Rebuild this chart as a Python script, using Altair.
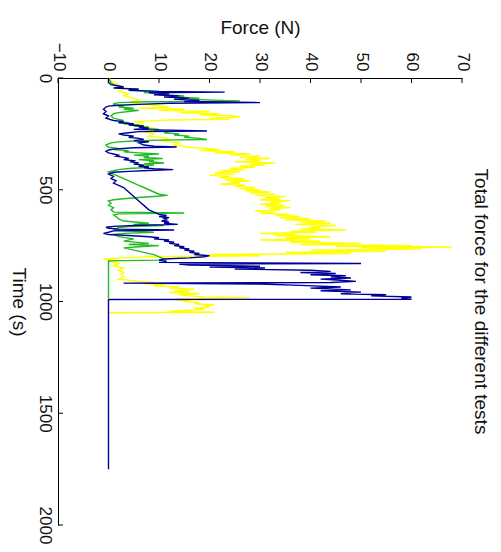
import altair as alt
import pandas as pd

# ---- data (time in s, force in N) ----
blue_t = [0,20,30,40,45,50,55,60,63,66,70,75,80,85,90,95,100,105,110,113,118,122,126,130,140,150,160,170,180,190,195,200,205,210,215,220,225,230,237,240,245,250,255,260,265,270,275,280,285,290,300,305,309,312,318,322,328,335,340,345,350,355,360,365,370,375,380,385,390,395,398,402,406,410,414,418,422,426,430,440,450,460,470,480,490,500,510,520,530,540,550,560,570,580,590,600,610,615,620,625,630,635,640,645,650,655,660,664,668,672,676,680,684,690,695,700,705,710,715,720,725,730,735,740,745,750,755,760,765,770,775,780,785,790,795,800,805,810,815,820,825,830,833,837,842,846,850,855,860,865,870,875,880,885,890,895,900,905,910,915,918,922,928,935,940,948,952,958,965,970,975,980,985,990,991,1000,1750]
blue_f = [0,0,0.5,3,1,6,4,10,23,8,12,9,14,11,16,13,18,15,30,12,6,2,0,-0.5,-1,-0.5,-1,0,-0.5,1,3,2,5,4,7,6,8,5,19.5,6,4,2,3,5,4,6,7,5,8,6,7,9,13.5,5,1,0,-0.5,0,1,2,1.5,3,4,3,5,4.5,6,5,7,6,8,7,9,12.8,8,4,1,0.5,0,1,0.5,1.5,1,2,3,3.5,4,4.5,5,5.5,6,6.5,7,7.5,8,9,10,11.5,10,12,11,11.5,10.5,12,11,13.7,5,1,-0.5,0,2,13,1,0,-1,0,4,8,10,9,12,11,13,12,14,13,15,14,16,15,17,16,18,17,20,19,16,11,10,11.5,10,50,14,16,30,20,31,25,40,44,38,45,40,47,44,48,42,46,49,44,3,30,38,46,40,48,42,50,46,55,52,60,58,60,0,0,0]

yellow_t = [0,10,20,30,40,50,60,70,80,90,100,110,120,130,135,140,145,150,155,160,165,170,175,180,185,188,192,196,200,210,220,230,240,250,260,270,280,290,300,310,320,325,330,335,340,345,350,355,360,365,370,375,380,385,390,395,400,405,410,415,420,425,430,435,440,445,450,455,460,465,470,475,480,485,490,495,500,505,510,515,520,525,530,535,540,545,550,555,560,565,570,575,580,585,590,595,600,605,610,615,620,625,630,635,640,645,650,655,660,665,670,675,680,685,690,695,700,705,710,715,720,725,730,735,740,745,750,753,756,760,765,770,775,780,785,790,795,800,805,810,815,820,830,840,850,860,870,880,890,900,905,910,915,920,925,930,935,940,945,950,955,960,965,970,975,980,984,988,992,996,1000,1005,1010,1015,1020,1025,1030,1035,1040,1045,1048,1050]
yellow_f = [0,0.5,1,2,1.5,3,2,4,3,5,6,4,8,12,6,15,10,20,14,22,18,25,26,20,24,12,8,5,7,6,8,10,7,9,8,12,10,14,13,16,22,18,25,21,28,24,30,26,32,27,30,25,33,28,31,26,29,24,27,22,26,21,25,20,24,22,27,23,28,24,26,22,27,25,29,26,30,27,32,28,33,29,35,31,34,30,36,32,34,30,35,31,36,32,34,29,33,30,36,33,38,34,40,35,43,38,44,37,45,40,42,38,47,36,41,30,37,33,44,35,40,30,42,36,50,38,60,45,68,50,62,40,55,35,48,20,30,8,3,-1,2,0,2,1,3,2,3,2.5,3,2,4,6,9,7,11,9,14,12,17,13,16,12,18,14,16,19,28,15,13,16,15,18,17,21,19,20,17,19,15,12,21,0]

green_t = [0,20,30,40,45,50,55,60,65,70,75,80,85,90,95,100,103,106,110,115,120,125,130,135,140,145,150,155,160,170,180,185,190,195,200,205,210,215,220,225,230,235,240,245,250,255,260,265,270,275,278,282,286,290,295,300,310,315,320,325,330,335,340,345,350,355,360,365,370,375,380,385,390,395,400,405,410,415,420,425,430,440,450,460,470,480,490,500,510,520,525,530,535,540,545,550,560,570,580,590,600,604,608,612,620,630,640,650,655,660,665,670,680,690,695,700,710,720,730,740,745,750,755,760,770,780,790,800,810,815,818,830,900,985]
green_f = [0,0.5,1,3,2,6,4,9,7,12,10,15,13,18,16,22,26,8,2,1,1,3,2,5,3,6,4,2,1,0.5,1,2,3,2,4,3,6,5,8,7,10,9,12,11,14,13,16,15,18,19.5,10,5,2,0.5,0,-0.5,0,2,1,4,3,6,10,5,8,7,10.7,6,9,8,11,7,9,6,8,4,2,1,0,0.5,1,2,3,4,5,6,7,8,9,10,11.7,9,6,3,1,0,0.5,0,1,0.5,1,15,2,1,1.5,2,3,8,5,11,4,2,1,9,3,1,2,5,3,8,4,10,6,3,5,7,9,10,11,10,0,0,0,0]

x_ticks = [-10, 0, 10, 20, 30, 40, 50, 60, 70]
y_ticks = [0, 500, 1000, 1500, 2000]

series_colors = {"yellow": "#ffff00", "green": "#22bb22", "blue": "#00009a"}

def make_df(ts, fs):
    return pd.DataFrame({"i": list(range(len(ts))), "t": ts, "f": fs})

FONT = "Liberation Sans"
TXT = "#111111"
xscale = alt.Scale(domain=[-10, 70], nice=False, zero=False)
yscale = alt.Scale(domain=[0, 2000], nice=False, reverse=True)

def line_layer(df, color, with_axes=False):
    if with_axes:
        xenc = alt.X("f:Q", scale=xscale, axis=alt.Axis(
            orient="top", values=x_ticks, title="Force (N)", labelAngle=90, format="d",
            ticks=False, labelPadding=7, labelFontSize=17, titleFontSize=19,
            titlePadding=5, titleAngle=0, grid=False, labelFlush=False,
            labelOverlap=False, domainColor="#000000", labelColor=TXT,
            titleColor=TXT, titleFontWeight="normal", labelFont=FONT, titleFont=FONT))
        yenc = alt.Y("t:Q", scale=yscale, axis=alt.Axis(
            orient="left", values=y_ticks, title="Time (s)", labelAngle=90, format="d",
            ticks=False, labelPadding=6, labelFontSize=17, titleFontSize=19,
            titleAngle=90, titleX=-40, titleY=223.5, titleAlign="center",
            titleBaseline="middle", grid=False, labelFlush=False,
            labelOverlap=False, domainColor="#000000", labelColor=TXT,
            titleColor=TXT, titleFontWeight="normal", labelFont=FONT, titleFont=FONT))
    else:
        xenc = alt.X("f:Q", scale=xscale)
        yenc = alt.Y("t:Q", scale=yscale)
    return alt.Chart(df).mark_line(color=color, strokeWidth=1.4).encode(
        x=xenc, y=yenc, order=alt.Order("i:Q"))

yellow = line_layer(make_df(yellow_t, yellow_f), series_colors["yellow"], with_axes=True)
green = line_layer(make_df(green_t, green_f), series_colors["green"])
blue = line_layer(make_df(blue_t, blue_f), series_colors["blue"])

xt = alt.Chart(pd.DataFrame({"v": x_ticks})).mark_rule(color="#000000", strokeWidth=1).encode(
    x=alt.X("v:Q", scale=xscale), y=alt.value(0), y2=alt.value(5))
yt = alt.Chart(pd.DataFrame({"v": y_ticks})).mark_rule(color="#000000", strokeWidth=1).encode(
    y=alt.Y("v:Q", scale=yscale), x=alt.value(0), x2=alt.value(5))

chart = alt.layer(yellow, green, blue, xt, yt).properties(
    width=404, height=447,
    background="white",
    autosize=alt.AutoSizeParams(type="none"),
    padding={"left": 50, "top": 70, "right": 31, "bottom": 19},
    title=alt.TitleParams("Total force for the different tests", orient="right",
                          angle=90, fontSize=19, font=FONT, fontWeight="normal",
                          color=TXT, offset=0, anchor="middle"),
).configure_view(strokeWidth=0, strokeOpacity=0)

chart.save("out.html", embed_options={"renderer": "svg", "actions": False})
